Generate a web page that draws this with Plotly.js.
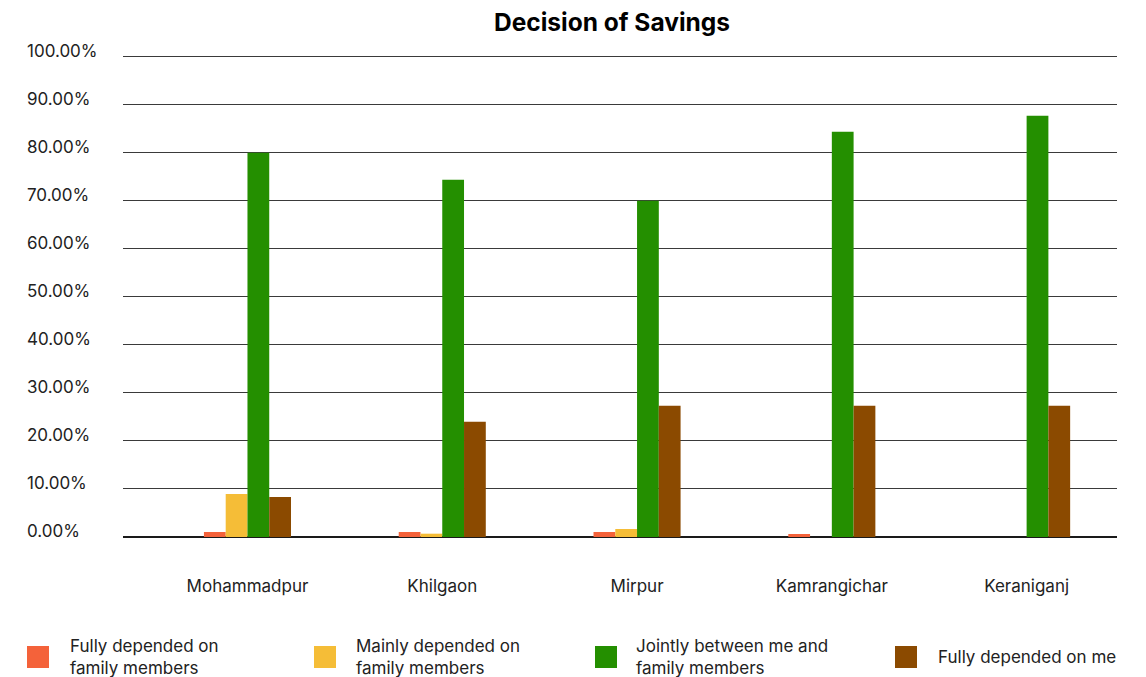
<!DOCTYPE html>
<html>
<head>
<meta charset="utf-8">
<script src="https://cdn.plot.ly/plotly-3.0.1.min.js"></script>
<style>
  html, body { margin: 0; padding: 0; background: #ffffff; }
  #chart { width: 1146px; height: 677px; }
</style>
</head>
<body>
<div id="chart"></div>
<script>
// Areas surveyed
const areas = ['Mohammadpur', 'Khilgaon', 'Mirpur', 'Kamrangichar', 'Keraniganj'];

// Share of respondents (%) by who decides on savings
const fullyFamily  = [1.04, 1.04, 1.04, 0.63, 0];
const mainlyFamily = [8.96, 0.69, 1.67, 0, 0];
const jointly      = [80.0, 74.4, 70.0, 84.4, 87.7];
const fullyMe      = [8.33, 24.0, 27.35, 27.35, 27.35];

// Series names (legend text, with line breaks)
const seriesNames = [
  'Fully depended on<br>family members',
  'Mainly depended on<br>family members',
  'Jointly between me and<br>family members',
  'Fully depended on me'
];
const seriesValues = [fullyFamily, mainlyFamily, jointly, fullyMe];
const seriesColors = ['#F4623A', '#F5BD37', '#248F00', '#8B4A00'];

// Y-axis ticks and their labels
const yTicks = [0, 10, 20, 30, 40, 50, 60, 70, 80, 90, 100];
const yTickLabels = ['0.00%', '10.00%', '20.00%', '30.00%', '40.00%', '50.00%',
                     '60.00%', '70.00%', '80.00%', '90.00%', '100.00%'];

const FONT = 'Inter, "Noto Sans", sans-serif';
const W = 1146, H = 677;
const PLOT_L = 123, PLOT_W = 994, PLOT_B = 537, PLOT_H = 485;   // y range 0..101

const traces = seriesValues.map((vals, i) => ({
  type: 'bar',
  name: seriesNames[i].replace('<br>', ' '),
  x: areas,
  y: vals,
  marker: { color: seriesColors[i], line: { width: 0 } },
  hoverinfo: 'skip',
  showlegend: false
}));

const px2x = px => (px - PLOT_L) / PLOT_W;
const px2y = py => (PLOT_B - py) / PLOT_H;

const shapes = [];
const annotations = [];

// Left-aligned y tick labels sitting just above each gridline
yTicks.forEach((v, i) => {
  annotations.push({
    xref: 'paper', yref: 'y',
    x: px2x(26), y: v, yshift: 6,
    xanchor: 'left', yanchor: 'middle', align: 'left',
    text: yTickLabels[i], showarrow: false, borderpad: 0,
    font: { family: FONT, size: 17, color: '#222222' }
  });
});

// Legend: large colour swatches with wrapped labels
const legendX = [27, 314, 595, 895];     // swatch left edges, px
const legendTextX = [68, 354, 634, 936];
seriesNames.forEach((name, i) => {
  shapes.push({
    type: 'rect', xref: 'paper', yref: 'paper', layer: 'above',
    x0: px2x(legendX[i]), x1: px2x(legendX[i] + 22),
    y0: px2y(668), y1: px2y(646),
    fillcolor: seriesColors[i], line: { width: 0 }
  });
  annotations.push({
    xref: 'paper', yref: 'paper',
    x: px2x(legendTextX[i]), y: px2y(657),
    xanchor: 'left', yanchor: 'middle', align: 'left',
    text: name, showarrow: false,
    font: { family: FONT, size: 17, color: '#222222' }
  });
});

const layout = {
  width: W, height: H,
  margin: { l: PLOT_L, r: W - PLOT_L - PLOT_W, t: PLOT_B - PLOT_H, b: H - PLOT_B, pad: 0 },
  paper_bgcolor: '#ffffff',
  plot_bgcolor: '#ffffff',
  font: { family: FONT, color: '#222222' },
  title: {
    text: '<b>Decision of Savings</b>',
    xref: 'container', yref: 'container',
    x: 612 / W, y: 1 - 22 / H, xanchor: 'center', yanchor: 'middle',
    font: { family: FONT, size: 24.5, color: '#000000' }
  },
  barmode: 'group',
  bargap: 0.553,
  bargroupgap: 0,
  xaxis: {
    type: 'category',
    range: [-0.639, 4.464],
    showgrid: false, zeroline: false, showline: false,
    ticks: '',
    ticklabelstandoff: 37,
    tickfont: { family: FONT, size: 17, color: '#222222' },
    fixedrange: true
  },
  yaxis: {
    range: [0, 101],
    tickvals: yTicks,
    showticklabels: false,
    showgrid: true, gridcolor: '#3a3a3a', gridwidth: 1,
    zeroline: true, zerolinecolor: '#1a1a1a', zerolinewidth: 2,
    showline: false, ticks: '',
    fixedrange: true
  },
  shapes: shapes,
  annotations: annotations,
  showlegend: false
};

Plotly.newPlot('chart', traces, layout, { staticPlot: true, displayModeBar: false });
</script>
</body>
</html>
